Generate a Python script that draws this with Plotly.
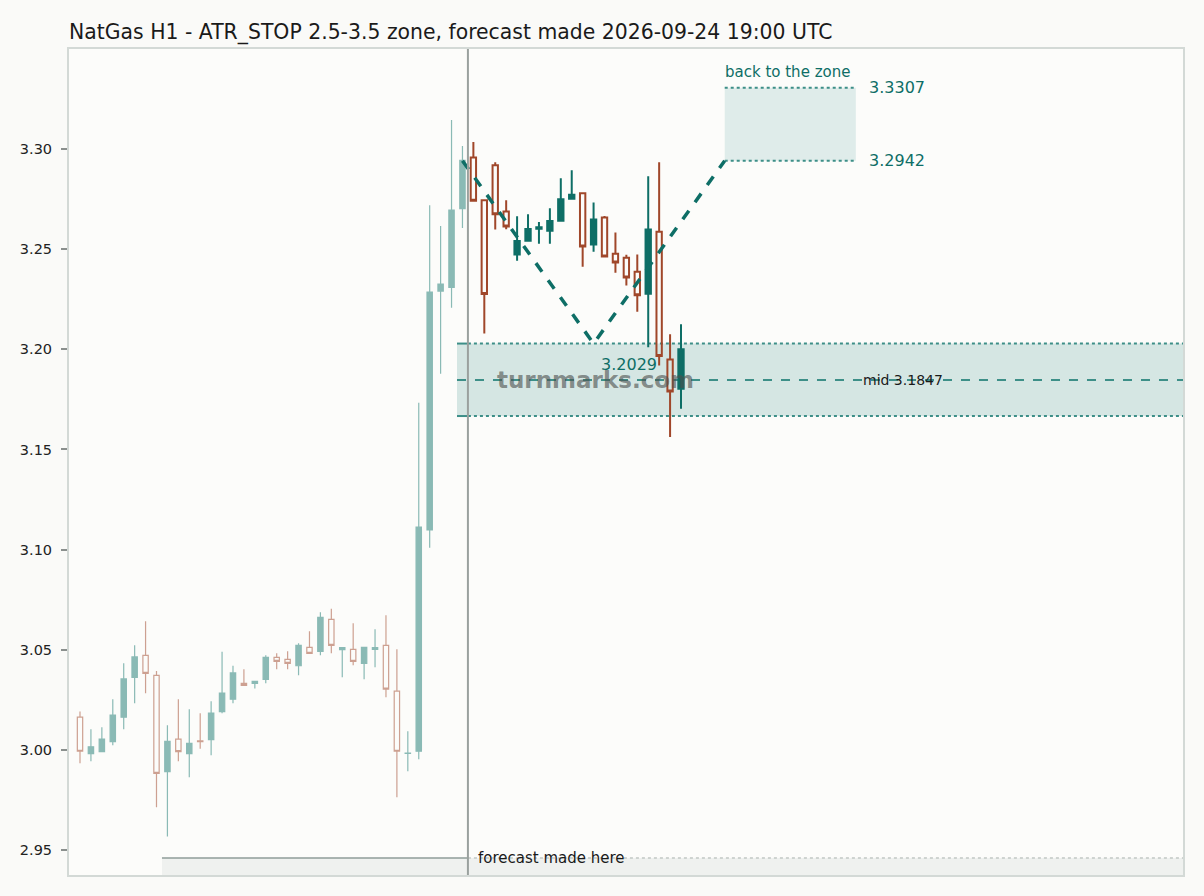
import plotly.graph_objects as go

# ---------------- data ----------------
hist_x = list(range(0, 36))
hist_open = [3.0163, 2.9981, 2.9991, 3.0041, 3.0163, 3.0362, 3.0472, 3.0372, 2.9891, 3.0054,
             2.9981, 3.0045, 3.0051, 3.0191, 3.0253, 3.0332, 3.0332, 3.0352, 3.0462, 3.0452,
             3.0420, 3.0512, 3.0492, 3.0652, 3.0500, 3.0502, 3.0432, 3.0502, 3.0522, 3.0293,
             2.9982, 2.9993, 3.1098, 3.2291, 3.2309, 3.2703]
hist_high = [3.0191, 3.0103, 3.0113, 3.0253, 3.0432, 3.0522, 3.0642, 3.0394, 3.0123, 3.0253,
             3.0203, 3.0183, 3.0243, 3.0490, 3.0420, 3.0402, 3.0345, 3.0472, 3.0482, 3.0492,
             3.0532, 3.0592, 3.0687, 3.0705, 3.0512, 3.0632, 3.0514, 3.0602, 3.0672, 3.0502,
             3.0093, 3.1733, 3.2720, 3.2616, 3.3145, 3.3015]
hist_low = [2.9933, 2.9943, 2.9990, 3.0023, 3.0103, 3.0233, 3.0283, 2.9713, 2.9567, 2.9943,
            2.9863, 3.0005, 2.9973, 3.0183, 3.0233, 3.0320, 3.0306, 3.0332, 3.0402, 3.0402,
            3.0372, 3.0480, 3.0472, 3.0482, 3.0362, 3.0422, 3.0352, 3.0412, 3.0263, 2.9763,
            2.9893, 2.9953, 3.1009, 3.1878, 3.2208, 3.2606]
hist_close = [2.9993, 3.0015, 3.0054, 3.0174, 3.0354, 3.0464, 3.0382, 2.9883, 3.0043, 2.9991,
              3.0033, 3.0041, 3.0184, 3.0284, 3.0384, 3.0322, 3.0342, 3.0462, 3.0442, 3.0432,
              3.0522, 3.0482, 3.0662, 3.0522, 3.0510, 3.0442, 3.0512, 3.0510, 3.0303, 2.9993,
              2.9984, 3.1113, 3.2286, 3.2326, 3.2695, 3.2944]

fc_x = list(range(36, 56))
fc_open = [3.2958, 3.2745, 3.2919, 3.2688, 3.2474, 3.2542, 3.2602, 3.2592, 3.2642, 3.2752,
           3.2779, 3.2524, 3.2659, 3.2477, 3.2457, 3.2387, 3.2278, 3.2587, 3.1950, 3.1803]
fc_high = [3.3035, 3.2750, 3.2934, 3.2745, 3.2665, 3.2675, 3.2636, 3.2705, 3.2855, 3.2895,
           3.2780, 3.2734, 3.2666, 3.2584, 3.2472, 3.2474, 3.2865, 3.2935, 3.2076, 3.2126]
fc_low = [3.2737, 3.2079, 3.2599, 3.2600, 3.2442, 3.2540, 3.2527, 3.2527, 3.2640, 3.2750,
          3.2412, 3.2487, 3.2460, 3.2382, 3.2319, 3.2188, 3.2010, 3.1920, 3.1562, 3.1703]
fc_close = [3.2742, 3.2276, 3.2675, 3.2614, 3.2541, 3.2601, 3.2610, 3.2641, 3.2750, 3.2772,
            3.2514, 3.2649, 3.2464, 3.2434, 3.2359, 3.2270, 3.2599, 3.1967, 3.1790, 3.2000]

path_x = [35, 47, 59]
path_y = [3.2942, 3.2029, 3.2942]

zone_low, zone_high, zone_mid = 3.1667, 3.2029, 3.1847
target_low, target_high = 3.2942, 3.3307
target_x0, target_x1 = 59, 71
zone_x0 = 34.5
forecast_x = 35.5
band_x0 = 7.5
band_y = 2.946

x_range = [-1.007, 100.94]
y_range = [2.9375, 3.35]
y_ticks = [2.95, 3.00, 3.05, 3.10, 3.15, 3.20, 3.25, 3.30]

title = "NatGas H1 - ATR_STOP 2.5-3.5 zone, forecast made 2026-09-24 19:00 UTC"

TEAL = "#0e6e66"
SIENNA = "#a0472a"
ZLINE = "#3d8f88"
FONT = "DejaVu Sans"
BG = "#fafaf8"

# page body has an 8px margin; size the figure so the page does not overflow
W, H = 1188, 880

fig = go.Figure()

fig.add_trace(go.Candlestick(
    x=hist_x, open=hist_open, high=hist_high, low=hist_low, close=hist_close,
    increasing=dict(line=dict(color="#1b7a72", width=1.2), fillcolor="#1b7a72"),
    decreasing=dict(line=dict(color=SIENNA, width=1.2), fillcolor="rgba(0,0,0,0)"),
    opacity=0.5, showlegend=False, hoverinfo="skip"))

fig.add_trace(go.Candlestick(
    x=fc_x, open=fc_open, high=fc_high, low=fc_low, close=fc_close,
    increasing=dict(line=dict(color=TEAL, width=2), fillcolor=TEAL),
    decreasing=dict(line=dict(color=SIENNA, width=2), fillcolor="rgba(0,0,0,0)"),
    showlegend=False, hoverinfo="skip"))

fig.add_trace(go.Scatter(
    x=path_x, y=path_y, mode="lines",
    line=dict(color=TEAL, width=3.5, dash="dash"),
    showlegend=False, hoverinfo="skip"))

shapes = []
# bottom band
shapes.append(dict(type="rect", xref="x", yref="y", x0=band_x0, x1=x_range[1], y0=y_range[0], y1=band_y,
                   fillcolor="#eff1ef", line=dict(width=0), layer="below"))
shapes.append(dict(type="line", xref="x", yref="y", x0=band_x0, x1=forecast_x, y0=band_y, y1=band_y,
                   line=dict(color="#8f9c98", width=1.5), layer="below"))
shapes.append(dict(type="line", xref="x", yref="y", x0=forecast_x, x1=x_range[1], y0=band_y, y1=band_y,
                   line=dict(color="#a8b0ad", width=1, dash="dot"), layer="below"))
# zone
shapes.append(dict(type="rect", xref="x", yref="y", x0=zone_x0, x1=x_range[1], y0=zone_low, y1=zone_high,
                   fillcolor="#d5e6e3", line=dict(width=0), layer="below"))
for yv in (zone_low, zone_high):
    shapes.append(dict(type="line", xref="x", yref="y", x0=zone_x0, x1=forecast_x, y0=yv, y1=yv,
                       line=dict(color=ZLINE, width=2), layer="below"))
    shapes.append(dict(type="line", xref="x", yref="y", x0=forecast_x, x1=x_range[1], y0=yv, y1=yv,
                       line=dict(color=ZLINE, width=2, dash="dot"), layer="below"))
shapes.append(dict(type="line", xref="x", yref="y", x0=zone_x0, x1=x_range[1], y0=zone_mid, y1=zone_mid,
                   line=dict(color=ZLINE, width=2, dash="dash"), layer="below"))
# target zone
shapes.append(dict(type="rect", xref="x", yref="y", x0=target_x0, x1=target_x1, y0=target_low, y1=target_high,
                   fillcolor="#dfecea", line=dict(width=0), layer="below"))
for yv in (target_low, target_high):
    shapes.append(dict(type="line", xref="x", yref="y", x0=target_x0, x1=target_x1, y0=yv, y1=yv,
                       line=dict(color=ZLINE, width=2, dash="dot"), layer="below"))
# forecast vertical line
shapes.append(dict(type="line", xref="x", yref="paper", x0=forecast_x, x1=forecast_x, y0=0, y1=1,
                   line=dict(color="#9aa19e", width=2)))

annotations = [
    dict(x=target_x0, y=target_high, xref="x", yref="y", text="back to the zone", showarrow=False,
         xanchor="left", yanchor="middle", yshift=16, xshift=-2, font=dict(family=FONT, size=15, color=TEAL)),
    dict(x=72, y=target_high, xref="x", yref="y", text="3.3307", showarrow=False,
         xanchor="left", yanchor="middle", font=dict(family=FONT, size=16, color=TEAL)),
    dict(x=72, y=target_low, xref="x", yref="y", text="3.2942", showarrow=False,
         xanchor="left", yanchor="middle", font=dict(family=FONT, size=16, color=TEAL)),
    dict(x=50.24, y=path_y[1], xref="x", yref="y", text="3.2029", showarrow=False,
         xanchor="center", yanchor="middle", yshift=-21, font=dict(family=FONT, size=16, color=TEAL)),
    dict(x=47.2, y=zone_mid, xref="x", yref="y", text="<b>turnmarks.com</b>", showarrow=False,
         xanchor="center", yanchor="middle", font=dict(family=FONT, size=23, color="rgba(75,80,78,0.62)")),
    dict(x=71.5, y=zone_mid, xref="x", yref="y", text="mid 3.1847", showarrow=False,
         xanchor="left", yanchor="middle", font=dict(family=FONT, size=14, color="#1a1a1a")),
    dict(x=36.24, y=band_y, xref="x", yref="y", text="forecast made here", showarrow=False,
         xanchor="left", yanchor="middle", font=dict(family=FONT, size=15, color="#1a1a1a")),
]

fig.update_layout(
    width=W, height=H,
    margin=dict(l=61, r=13, t=41, b=13),
    paper_bgcolor=BG, plot_bgcolor="#fcfcfa",
    title=dict(text=title, x=61 / W, xref="container", xanchor="left",
               y=1 - 24 / H, yref="container", yanchor="middle",
               font=dict(family=FONT, size=20.4, color="#1a1a1a")),
    shapes=shapes, annotations=annotations,
    showlegend=False,
    xaxis=dict(range=x_range, showticklabels=False, ticks="", showgrid=False, zeroline=False,
               showline=True, mirror=True, linecolor="#d3d9d6", linewidth=2,
               rangeslider=dict(visible=False)),
    yaxis=dict(range=y_range, tickvals=y_ticks, ticktext=[f"{v:.2f}" for v in y_ticks],
               ticks="outside", ticklen=6, tickcolor="#8a8f8d", tickwidth=2,
               ticklabelstandoff=6,
               showgrid=False, zeroline=False, showline=True, mirror=True,
               linecolor="#d3d9d6", linewidth=2,
               tickfont=dict(family=FONT, size=14.5, color="#222222")),
)

fig.write_html("out.html", post_script=f"document.body.style.background='{BG}';")
